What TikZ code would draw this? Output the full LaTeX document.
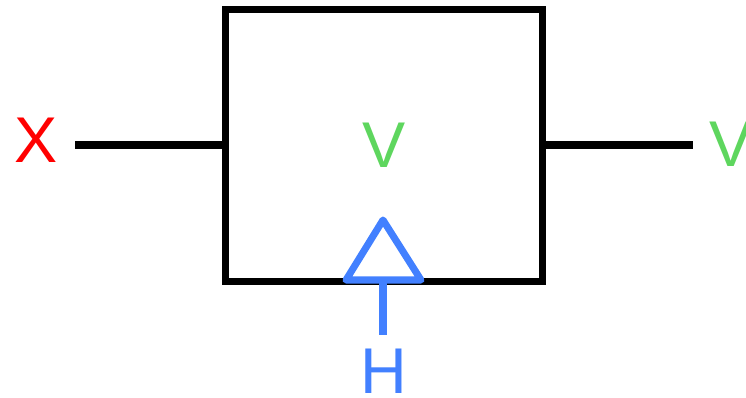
\documentclass[tikz,border=0pt]{standalone}
\usepackage{fontspec}
\setmainfont{Liberation Sans}
\usetikzlibrary{positioning}
\definecolor{sigred}{RGB}{255,0,0}
\definecolor{siggreen}{RGB}{94,214,94}
\definecolor{sigblue}{RGB}{66,128,255}
\tikzset{
  blockbox/.style={rectangle, draw=black, line width=5pt, minimum width=7.9cm,
                   minimum height=6.775cm, inner sep=0pt, text=siggreen,
                   font=\fontsize{46}{50}\selectfont},
  wire/.style={draw=black, line width=5pt},
  sig/.style={font=\fontsize{46}{50}\selectfont, inner sep=0pt},
  hinge/.style={draw=sigblue, line width=5pt, line join=round, line cap=round},
}

\begin{document}
\begin{tikzpicture}[x=0.025cm, y=-0.025cm]
\useasboundingbox (0,0) rectangle (746,397);

% ===================== block and its ports =====================
\node[blockbox] (blk) at (384,145.5) {V};
\node[sig, text=sigred, anchor=base] (xin) at (36,162) {X};
\node[sig, text=siggreen, anchor=base west] (vout) at (709,166) {V};
\coordinate (xend) at (75,145);
\coordinate (vend) at (693,145);
\draw[wire] (xend) -- (blk.west |- xend);
\draw[wire] (blk.east |- vend) -- (vend);

% ===================== clock input at the bottom ===============
\node[sig, text=sigblue, anchor=base] (hin) at (384,393) {H};
\coordinate (tip) at (383,220);
\coordinate (hend) at (383,335);
\draw[hinge] (tip) -- (346,280) -- (421,280) -- cycle;
\draw[hinge, line cap=butt] (383,280) -- (hend);

\end{tikzpicture}
\end{document}
